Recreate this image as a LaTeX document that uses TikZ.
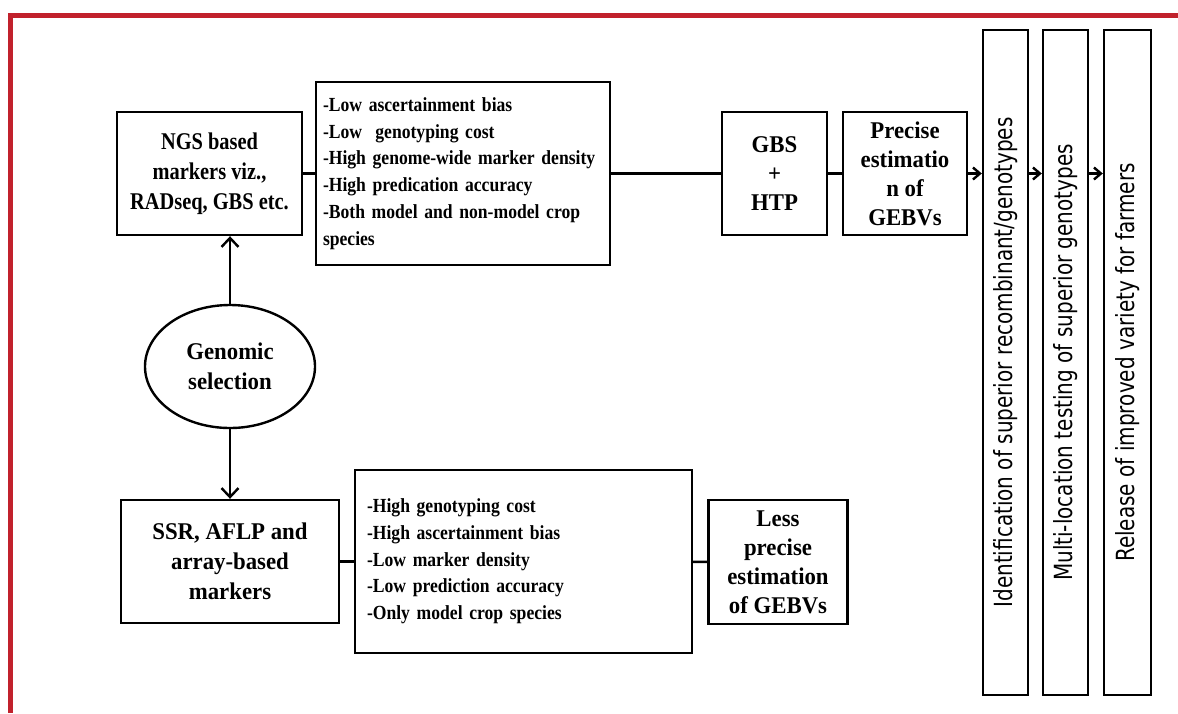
\documentclass[tikz,border=0pt]{standalone}
\usepackage{fontspec}
\setmainfont{Liberation Serif}
\newfontfamily\tightfont[FakeStretch=0.85]{Liberation Serif}
\newfontfamily\narrowfont[FakeStretch=0.95]{Liberation Serif}
\newfontfamily\listfont[FakeStretch=0.88]{Liberation Serif}
\newfontfamily\vertfont[FakeStretch=0.8]{DejaVu Sans}
\usepackage{tikz}
\usetikzlibrary{shapes.geometric, arrows.meta, positioning}
\definecolor{framered}{RGB}{193,33,44}

\begin{document}
\begin{tikzpicture}[
  x=1pt, y=-1pt,
  box/.style={draw, line width=2.4pt, align=center, inner sep=2pt,
    font=\narrowfont\fontsize{24}{29}\selectfont\bfseries},
  list/.style={box, align=left, minimum height=183pt,
    font=\listfont\fontsize{20}{26.7}\selectfont\bfseries},
  stage/.style={draw, line width=2.4pt, minimum width=45pt, minimum height=665pt,
    inner sep=0pt, font=\vertfont\fontsize{25}{26}\selectfont},
  link/.style={line width=2.4pt},
  arr/.style={link, -{Straight Barb[length=9pt,width=17pt]}},
  harr/.style={link, -{Straight Barb[length=7pt,width=12pt]}},
]
\useasboundingbox (0,0) rectangle (1178,713);

%% Frame
\draw[framered, line width=4.5pt] (1178,15.5) -- (10.5,15.5) -- (10.5,713);

%% Left column
\node[box, minimum width=185pt, minimum height=123pt,
  font=\tightfont\fontsize{24}{30}\selectfont\bfseries] (ngs) at (209.5,173.5)
  {NGS based\\markers viz.,\\RADseq, GBS etc.};
\node[box, ellipse, minimum width=170pt, minimum height=123pt, inner sep=0pt,
  font=\narrowfont\fontsize{24}{30}\selectfont\bfseries] (gs) at (230,366.5)
  {Genomic\\selection};
\node[box, minimum width=218pt, minimum height=123pt,
  font=\narrowfont\fontsize{24}{30}\selectfont\bfseries] (ssr) at (230,561.5)
  {SSR, AFLP and\\array-based\\markers};

%% Marker properties
\node[list, text width=280pt, inner xsep=7pt] (pros) at (463,173.5)
  {-Low ascertainment bias\\-Low\ \ genotyping cost\\-High genome-wide marker density\\-High predication accuracy\\-Both model and non-model crop\\species};
\node[list, text width=313pt, inner xsep=12pt] (cons) at (523.5,561.5)
  {-High genotyping cost\\-High ascertainment bias\\-Low marker density\\-Low prediction accuracy\\-Only model crop species};

%% Estimation
\node[box, minimum width=105pt, minimum height=123pt] (gbs) at (774.5,173.5) {GBS\\+\\HTP};
\node[box, minimum width=124pt, minimum height=123pt] (pre) at (905,173.5)
  {Precise\\estimatio\\n of\\GEBVs};
\node[box, minimum width=139pt, minimum height=124pt] (less) at (778,562)
  {Less\\precise\\estimation\\of GEBVs};

%% Breeding stages
\node[stage] (v1) at (1005.5,362.5) {\rotatebox{90}{Identification of superior recombinant/genotypes}};
\node[stage] (v2) at (1065.5,362.5) {\rotatebox{90}{Multi-location testing of superior genotypes}};
\node[stage, minimum width=47pt] (v3) at (1127.5,362.5) {\rotatebox{90}{Release of improved variety for farmers}};

%% Connectors
\draw[arr] (gs.north) -- (gs.north |- ngs.south);
\draw[arr] (gs.south) -- (gs.south |- ssr.north);
\draw[link] (ngs) -- (pros);
\draw[link] (pros) -- (gbs);
\draw[link] (gbs) -- (pre);
\draw[link] (ssr) -- (cons);
\draw[link] (cons) -- (less);
\draw[harr] (pre.east) -- (pre.east -| v1.west);
\draw[harr] (pre.east -| v1.east) -- (pre.east -| v2.west);
\draw[harr] (pre.east -| v2.east) -- (pre.east -| v3.west);

\end{tikzpicture}
\end{document}
